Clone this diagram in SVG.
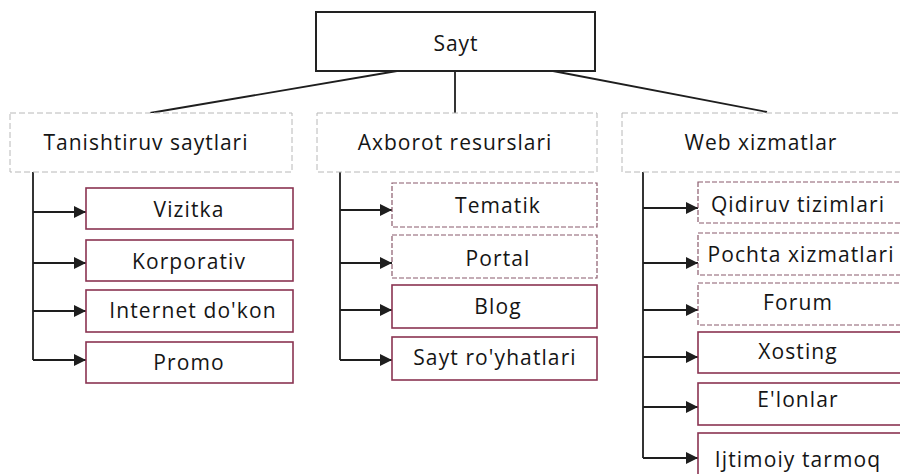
<svg xmlns="http://www.w3.org/2000/svg" width="900" height="474" viewBox="0 0 900 474">
<style>
text{font-family:"Open Sans","Noto Sans","DejaVu Sans",sans-serif;fill:#151515;text-anchor:middle}
.root{fill:#fff;stroke:#222;stroke-width:2}
.cat{fill:#fff;stroke:#b8b8b8;stroke-width:1;stroke-dasharray:6 3}
.item{fill:#fff;stroke:#8a3452;stroke-width:1.6}
.faint{fill:#fff;stroke:#8a5a6c;stroke-width:1.2;stroke-dasharray:5 2}
.t1{font-size:21px;letter-spacing:1px}
.t2{font-size:21px;letter-spacing:1.1px}
.ln{fill:none;stroke:#1e1e1e;stroke-width:1.8}
</style>
<defs>
<marker id="arr" viewBox="0 0 10 10" refX="10" refY="5" markerWidth="13" markerHeight="12" markerUnits="userSpaceOnUse" orient="auto">
<path d="M0,0 L10,5 L0,10 z" fill="#1e1e1e"/>
</marker>
</defs>
<rect width="900" height="474" fill="#fff"/>

<g id="connectors">
<path class="ln" d="M397,71 L150,113"/>
<path class="ln" d="M455,71 L455,113"/>
<path class="ln" d="M553,71 L767,112"/>

<path class="ln" d="M33,172 L33,360"/>
<path class="ln" d="M33,212 L86,212" marker-end="url(#arr)"/>
<path class="ln" d="M33,263 L86,263" marker-end="url(#arr)"/>
<path class="ln" d="M33,311 L86,311" marker-end="url(#arr)"/>
<path class="ln" d="M33,360 L86,360" marker-end="url(#arr)"/>

<path class="ln" d="M340,172 L340,360"/>
<path class="ln" d="M340,210 L392,210" marker-end="url(#arr)"/>
<path class="ln" d="M340,263 L392,263" marker-end="url(#arr)"/>
<path class="ln" d="M340,310 L392,310" marker-end="url(#arr)"/>
<path class="ln" d="M340,360 L392,360" marker-end="url(#arr)"/>

<path class="ln" d="M643,172 L643,458"/>
<path class="ln" d="M643,208 L698,208" marker-end="url(#arr)"/>
<path class="ln" d="M643,263 L698,263" marker-end="url(#arr)"/>
<path class="ln" d="M643,310 L698,310" marker-end="url(#arr)"/>
<path class="ln" d="M643,357 L698,357" marker-end="url(#arr)"/>
<path class="ln" d="M643,407 L698,407" marker-end="url(#arr)"/>
<path class="ln" d="M643,458 L698,458" marker-end="url(#arr)"/>
</g>

<g id="sayt"><rect class="root" x="316" y="12" width="279" height="59"/><text class="t1" x="456" y="51">Sayt</text></g>

<g id="tanishtiruv"><rect class="cat" x="10" y="113" width="282" height="59"/><text class="t1" x="146" y="150">Tanishtiruv saytlari</text></g>
<g id="axborot"><rect class="cat" x="317" y="113" width="280" height="59"/><text class="t1" x="455" y="150">Axborot resurslari</text></g>
<g id="web"><rect class="cat" x="622" y="113" width="290" height="59"/><text class="t1" x="761" y="150">Web xizmatlar</text></g>

<g id="vizitka"><rect class="item" x="86" y="188" width="207" height="41"/><text class="t2" x="189" y="217">Vizitka</text></g>
<g id="korporativ"><rect class="item" x="86" y="240" width="207" height="41"/><text class="t2" x="189" y="269">Korporativ</text></g>
<g id="internet"><rect class="item" x="86" y="290" width="207" height="42"/><text class="t2" x="193" y="318">Internet do'kon</text></g>
<g id="promo"><rect class="item" x="86" y="342" width="207" height="41"/><text class="t2" x="189" y="370">Promo</text></g>

<g id="tematik"><rect class="faint" x="392" y="183" width="205" height="44"/><text class="t2" x="498" y="213">Tematik</text></g>
<g id="portal"><rect class="faint" x="392" y="235" width="205" height="43"/><text class="t2" x="498" y="266">Portal</text></g>
<g id="blog"><rect class="item" x="392" y="285" width="205" height="43"/><text class="t2" x="498" y="314">Blog</text></g>
<g id="royhat"><rect class="item" x="392" y="337" width="205" height="43"/><text class="t2" x="495" y="365">Sayt ro'yhatlari</text></g>

<g id="qidiruv"><rect class="faint" x="698" y="182" width="210" height="41"/><text class="t2" x="798" y="212">Qidiruv tizimlari</text></g>
<g id="pochta"><rect class="faint" x="698" y="233" width="210" height="42"/><text class="t2" x="801" y="262">Pochta xizmatlari</text></g>
<g id="forum"><rect class="faint" x="698" y="283" width="210" height="42"/><text class="t2" x="798" y="310">Forum</text></g>
<g id="xosting"><rect class="item" x="698" y="332" width="210" height="41"/><text class="t2" x="798" y="359">Xosting</text></g>
<g id="elonlar"><rect class="item" x="698" y="383" width="210" height="42"/><text class="t2" x="798" y="407">E'lonlar</text></g>
<g id="ijtimoiy"><rect class="item" x="698" y="433" width="210" height="50"/><text class="t2" x="798" y="467">Ijtimoiy tarmoq</text></g>
</svg>
